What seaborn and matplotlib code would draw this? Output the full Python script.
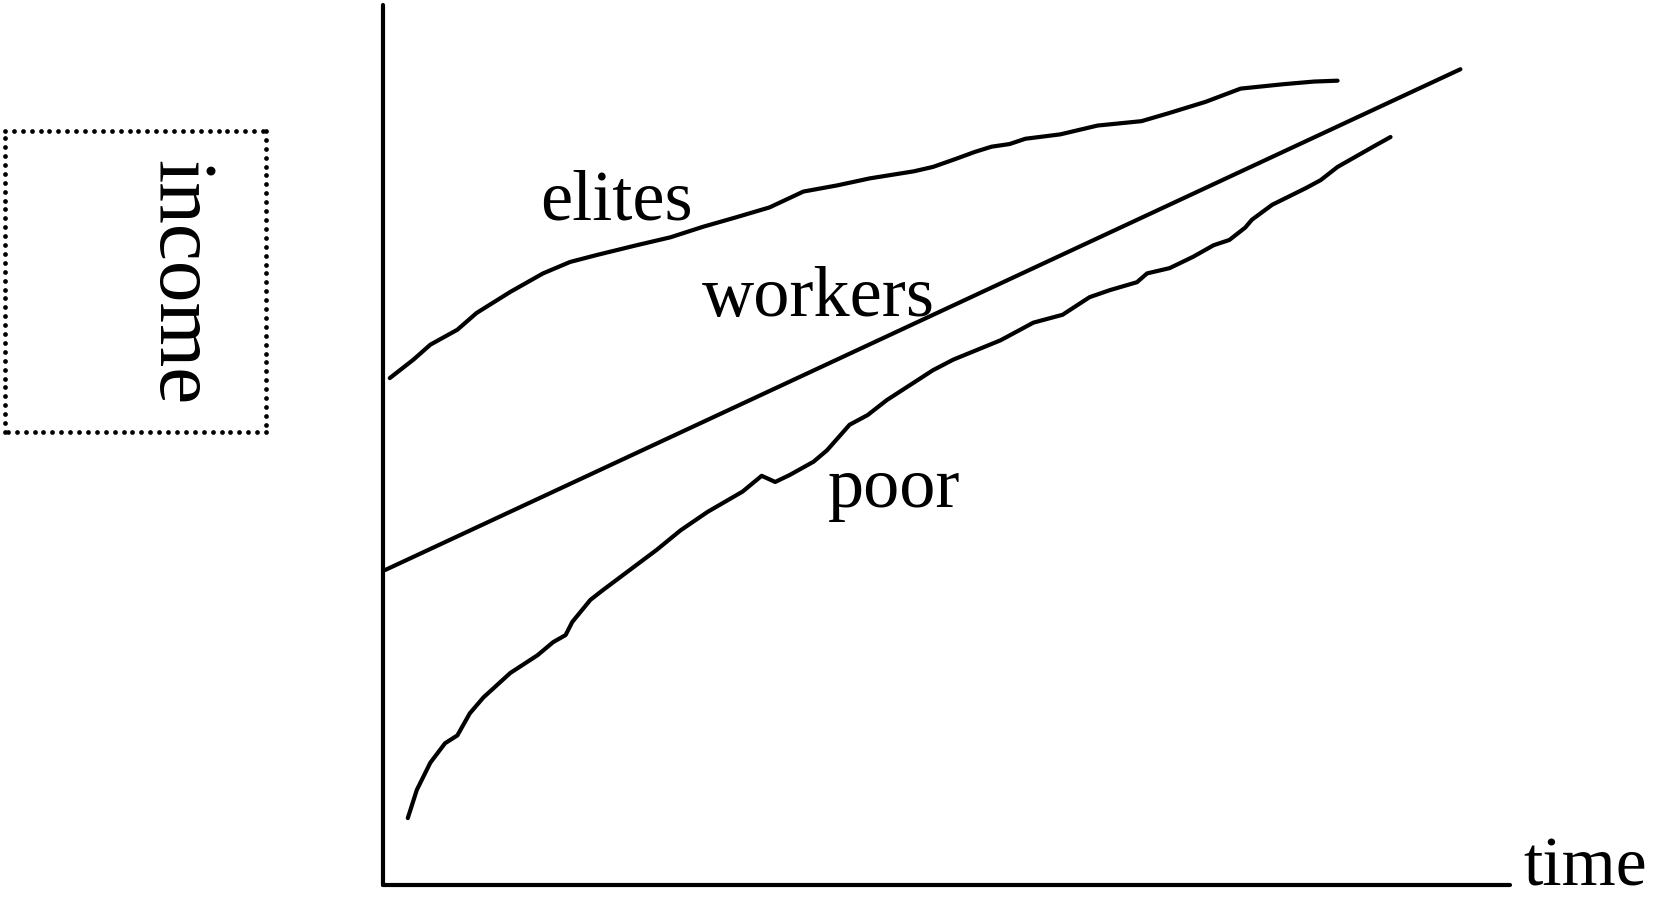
import numpy as np
import matplotlib
matplotlib.use("Agg")
import matplotlib.pyplot as plt
import seaborn as sns
from matplotlib.lines import Line2D

# Data (time on x, income on y, both 0-100 in arbitrary units)
workers_time = [0.2, 95.6]
workers_income = [35.8, 92.7]

elites_time = [0.6, 2.7, 4.2, 6.6, 8.3, 11.3, 14.2, 16.6, 19.0, 22.5, 25.5, 28.4, 31.4,
               34.3, 37.3, 40.3, 43.2, 47.1, 48.8, 50.8, 52.5, 54.0, 55.6, 57.0, 60.1,
               63.4, 67.3, 69.7, 73.0, 76.1, 79.9, 82.6, 84.7]
elites_income = [57.6, 59.7, 61.4, 63.1, 65.0, 67.4, 69.5, 70.8, 71.6, 72.7, 73.6, 74.8, 75.9,
                 77.0, 78.8, 79.5, 80.3, 81.1, 81.6, 82.5, 83.3, 83.9, 84.2, 84.8, 85.3,
                 86.3, 86.8, 87.7, 89.0, 90.5, 91.0, 91.3, 91.4]

poor_time = [2.2, 3.0, 4.2, 5.5, 6.6, 7.7, 8.9, 11.3, 13.7, 15.1, 16.2, 16.8, 18.4, 19.5,
             21.9, 24.3, 26.4, 28.8, 31.9, 33.6, 34.8, 36.1, 38.2, 39.4, 41.4, 43.0, 44.7,
             48.8, 50.6, 54.8, 57.7, 60.3, 62.7, 64.5, 66.9, 67.8, 69.8, 71.9, 73.7, 75.1,
             76.5, 77.1, 78.9, 81.9, 83.2, 84.7, 88.0, 89.4]
poor_income = [7.6, 10.8, 13.9, 16.1, 17.0, 19.5, 21.3, 24.1, 26.1, 27.6, 28.4, 29.9, 32.4, 33.5,
               35.8, 38.1, 40.3, 42.4, 44.7, 46.5, 45.8, 46.6, 48.1, 49.4, 52.3, 53.4, 55.1,
               58.5, 59.7, 61.9, 63.9, 64.8, 66.8, 67.6, 68.5, 69.5, 70.1, 71.4, 72.7, 73.3,
               74.7, 75.6, 77.3, 79.2, 80.1, 81.6, 84.0, 85.0]

labels = {"elites": (13.9, 75.6), "workers": (28.3, 64.7), "poor": (39.5, 43.0)}

sns.set_theme(style="white")
plt.rcParams["font.family"] = ["Liberation Serif", "DejaVu Serif"]

W, H = 1656, 897
fig = plt.figure(figsize=(W / 100, H / 100), dpi=100)
ax = fig.add_axes([383 / W, 1 - 885 / H, 1127 / W, 880 / H])

lw = 3.0
for xs, ys in [(workers_time, workers_income), (elites_time, elites_income),
               (poor_time, poor_income)]:
    sns.lineplot(x=xs, y=ys, ax=ax, color="black", linewidth=lw,
                 solid_capstyle="round", solid_joinstyle="round")

for name, (tx, ty) in labels.items():
    ax.text(tx, ty, name, fontsize=52, ha="left", va="baseline", color="black")

ax.text(101.2, 0.0, "time", fontsize=50, ha="left", va="baseline", color="black", clip_on=False)

ax.set_xlim(0, 100)
ax.set_ylim(0, 100)
ax.set_xticks([])
ax.set_yticks([])
ax.set_xlabel("")
ax.set_ylabel("")
for side in ["top", "right"]:
    ax.spines[side].set_visible(False)
for side in ["left", "bottom"]:
    ax.spines[side].set_color("black")
    ax.spines[side].set_linewidth(lw)
    ax.spines[side].set_capstyle("round")

# dotted box round the rotated y label (dots every ~9 px)
x0, x1, y0, y1 = 5, 266, 131, 432
step = 8.9
top = np.arange(x0, x1, step)
side = np.arange(y0, y1, step)
dot_x = np.concatenate([top, np.full_like(side, x1), top[::-1] + (x1 - top[-1]) - (top[0] - x0), np.full_like(side, x0)])
dot_y = np.concatenate([np.full_like(top, y0), side, np.full_like(top, y1), side[::-1] + (y1 - side[-1])])
fig.add_artist(Line2D(dot_x / W, 1 - dot_y / H, transform=fig.transFigure, linestyle="none",
                      marker="o", markersize=3.4, color="black", markeredgewidth=0))
fig.text(178 / W, 1 - 283 / H, "income", fontsize=60, rotation=270,
         ha="center", va="center", color="black")

fig.savefig("out.png", dpi=100)
